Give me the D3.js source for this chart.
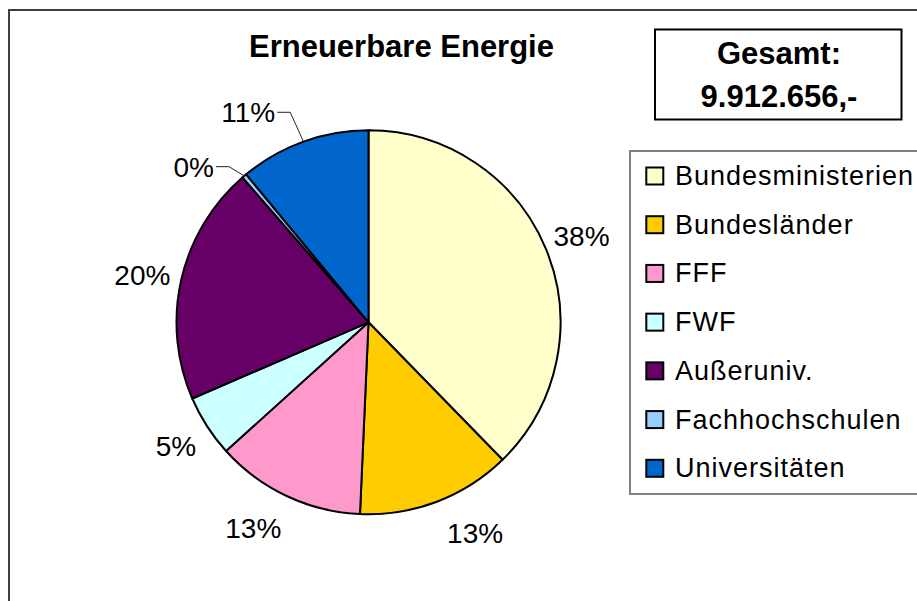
<!DOCTYPE html>
<html>
<head>
<meta charset="utf-8">
<script src="https://cdn.jsdelivr.net/npm/d3@7"></script>
<style>
  body { margin: 0; background: #fff; }
  svg { display: block; font-family: "Liberation Sans", Arial, sans-serif; }
</style>
</head>
<body>
<svg id="chart" width="917" height="601"></svg>
<script>
const categories = ['Bundesministerien', 'Bundesländer', 'FFF', 'FWF', 'Außeruniv.', 'Fachhochschulen', 'Universitäten'];
const amounts = [3737000, 1289000, 1249000, 515000, 1992000, 40000, 1090000];
const colours = ['#FFFFCC', '#FFCC00', '#FF99CC', '#CCFFFF', '#660066', '#99CCFF', '#0066CC'];
const title = 'Erneuerbare Energie';
const totalLines = ['Gesamt:', '9.912.656,-'];

const svg = d3.select('#chart');

// outer frame, runs off the right and bottom edge
svg.append('rect')
    .attr('x', 9).attr('y', 10)
    .attr('width', 960).attr('height', 640)
    .attr('fill', '#fff')
    .attr('stroke', '#404040').attr('stroke-width', 2);

svg.append('text')
    .attr('x', 401.5).attr('y', 57)
    .attr('text-anchor', 'middle')
    .attr('font-size', 31).attr('font-weight', 'bold')
    .text(title);

// total box
svg.append('rect')
    .attr('x', 655).attr('y', 29.5)
    .attr('width', 246.5).attr('height', 90)
    .attr('fill', '#fff')
    .attr('stroke', '#000').attr('stroke-width', 2);
svg.selectAll('text.total')
    .data(totalLines)
    .join('text')
    .classed('total', true)
    .attr('x', 779)
    .attr('y', (d, i) => 63.5 + i * 43.5)
    .attr('text-anchor', 'middle')
    .attr('font-size', 31).attr('font-weight', 'bold')
    .text(d => d);

// pie
const cx = 368.5, cy = 322.3, radius = 192;
const total = d3.sum(amounts);
const colour = d3.scaleOrdinal(categories, colours);
const pie = d3.pie().sort(null).value(d => d.value);
const arcs = pie(categories.map((c, i) => ({ name: c, value: amounts[i] })));
const arc = d3.arc().innerRadius(0).outerRadius(radius);

const g = svg.append('g').attr('transform', `translate(${cx},${cy})`);

g.selectAll('path.slice')
    .data(arcs)
    .join('path')
    .classed('slice', true)
    .attr('d', arc)
    .attr('fill', d => colour(d.data.name))
    .attr('stroke', '#000').attr('stroke-width', 2)
    .attr('stroke-linejoin', 'round');

// label placement: angle nudge (deg) and distance from rim, like Excel best fit
const labelShift = {
    'Bundesministerien': { da: 0, dr: 38 },
    'Bundesländer': { da: -6, dr: 44 },
    'FFF': { da: 4, dr: 44 },
    'FWF': { da: 0, dr: 37 },
    'Außeruniv.': { da: -1, dr: 39 },
    'Fachhochschulen': { da: -8, dr: 42 },
    'Universitäten': { da: -10, dr: 50 },
};
const leader = { 'Fachhochschulen': true, 'Universitäten': true };
const fmt = v => Math.round(v / total * 100) + '%';

arcs.forEach(d => {
    let name = d.data.name;
    let mid = (d.startAngle + d.endAngle) / 2;
    let s = labelShift[name];
    let a = mid + s.da * Math.PI / 180;
    let lr = radius + s.dr;
    let lx = lr * Math.sin(a), ly = -lr * Math.cos(a);
    let label = g.append('text')
        .attr('x', lx).attr('y', ly)
        .attr('dy', '0.36em')
        .attr('text-anchor', 'middle')
        .attr('font-size', 28)
        .text(fmt(d.data.value));

    if (leader[name]) {
        let w = label.node().getComputedTextLength();
        let ex = radius * Math.sin(mid), ey = -radius * Math.cos(mid);
        let sx = lx + w / 2 + 2;
        g.append('polyline')
            .attr('points', [[sx, ly], [sx + 13, ly], [ex, ey]].map(p => p.join(',')).join(' '))
            .attr('fill', 'none')
            .attr('stroke', '#222').attr('stroke-width', 1);
    }
});

// legend
const legend = svg.append('g');
legend.append('rect')
    .attr('x', 630).attr('y', 151)
    .attr('width', 320).attr('height', 343)
    .attr('fill', '#fff')
    .attr('stroke', '#808080').attr('stroke-width', 2);

const rowY = d3.scalePoint().domain(categories).range([176, 468.3]);

const rows = legend.selectAll('g.row')
    .data(categories)
    .join('g')
    .classed('row', true)
    .attr('transform', d => `translate(0,${rowY(d)})`);
rows.append('rect')
    .attr('x', 646.3).attr('y', -8.5)
    .attr('width', 17).attr('height', 17)
    .attr('fill', d => colour(d))
    .attr('stroke', '#000').attr('stroke-width', 2);
rows.append('text')
    .attr('x', 675).attr('y', 9)
    .attr('font-size', 27)
    .attr('letter-spacing', 1)
    .text(d => d);
</script>
</body>
</html>
